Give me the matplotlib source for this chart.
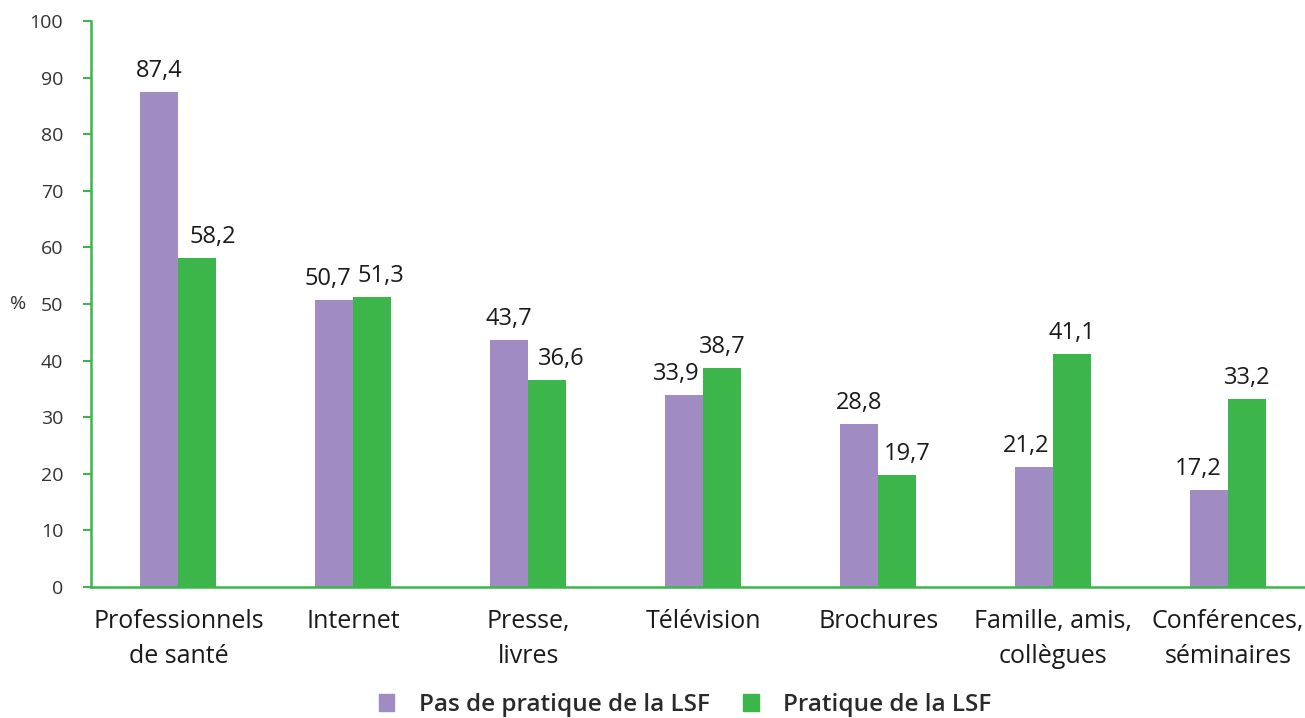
import numpy as np
import matplotlib.pyplot as plt
from matplotlib.patches import Patch

categories = ["Professionnels\nde santé", "Internet", "Presse,\nlivres", "Télévision",
              "Brochures", "Famille, amis,\ncollègues", "Conférences,\nséminaires"]
pas_pratique = [87.4, 50.7, 43.7, 33.9, 28.8, 21.2, 17.2]
pratique = [58.2, 51.3, 36.6, 38.7, 19.7, 41.1, 33.2]
series_names = ["Pas de pratique de la LSF", "Pratique de la LSF"]

# decalage horizontal des etiquettes (pixels) pour eviter les barres voisines
decal_pas = [0, -7, 0, -8, 0, -8, -11]
decal_prat = [15, 9, 14, 0, 10, 0, 0]

violet = "#A08CC2"
vert = "#3CB54B"

plt.rcParams['font.family'] = ['Open Sans', 'DejaVu Sans']

fig = plt.figure(figsize=(13.05, 7.18), dpi=100)
ax = fig.add_axes([0.0697, 0.1825, 0.9303, 0.7883])

x = np.arange(len(categories))
w = 0.217
b1 = ax.bar(x - w/2, pas_pratique, w, color=violet)
b2 = ax.bar(x + w/2, pratique, w, color=vert)

for bars, vals, decal in ((b1, pas_pratique, decal_pas), (b2, pratique, decal_prat)):
    for r, v, d in zip(bars, vals, decal):
        ax.annotate(f"{v:.1f}".replace(".", ","), (r.get_x() + r.get_width()/2, v),
                    xytext=(d, 15), textcoords="offset pixels",
                    ha="center", va="baseline", fontsize=17, color="#1a1a1a")

ax.set_xlim(-0.5, 6.44)
ax.set_ylim(0, 100)
ax.set_yticks(range(0, 101, 10))
ax.tick_params(axis="y", length=6, color=vert, width=1.5, labelsize=14, labelcolor="#333333", pad=14)
ax.set_xticks(x)
ax.set_xticklabels(categories, fontsize=18, color="#1a1a1a", linespacing=1.5)
ax.tick_params(axis="x", length=0, pad=16)
for s in ("top", "right"):
    ax.spines[s].set_visible(False)
for s in ("left", "bottom"):
    ax.spines[s].set_color(vert)
    ax.spines[s].set_linewidth(1.8)
ax.set_ylabel("%", rotation=0, fontsize=14, color="#333333", labelpad=0, va="center")
ax.yaxis.set_label_coords(-0.060, 0.5)

handles = [Patch(color=violet), Patch(color=vert)]
leg = fig.legend(handles, series_names, loc="center", bbox_to_anchor=(0.525, 0.018),
                 ncol=2, frameon=False, handlelength=0.62, handleheight=0.65,
                 columnspacing=1.4, handletextpad=1.0,
                 prop={"size": 17.5, "weight": "semibold"})
for t in leg.get_texts():
    t.set_color("#2a2a2a")

fig.savefig("out.png", dpi=100)
